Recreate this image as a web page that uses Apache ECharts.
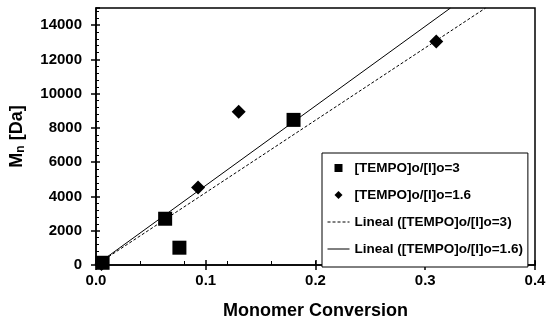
<!DOCTYPE html>
<html>
<head>
<meta charset="utf-8">
<script src="https://cdn.jsdelivr.net/npm/echarts@6/dist/echarts.min.js"></script>
<style>
html,body{margin:0;padding:0;background:#fff;}
#c{width:550px;height:325px;}
</style>
</head>
<body>
<div id="c"></div>
<script>
// Data
var seriesNames = ['[TEMPO]o/[I]o=3', '[TEMPO]o/[I]o=1.6', 'Lineal ([TEMPO]o/[I]o=3)', 'Lineal ([TEMPO]o/[I]o=1.6)'];
var conv3 = [0.006, 0.063, 0.076, 0.180];
var mn3 = [130, 2700, 1010, 8470];
var conv16 = [0.005, 0.093, 0.130, 0.310];
var mn16 = [60, 4530, 8950, 13050];
// trendline end points (forced through zero), read where they leave the plot
var trend3X = [0, 0.355];
var trend3Y = [0, 15000];
var trend16X = [0, 0.323];
var trend16Y = [0, 15000];
var xTicks = ['0.0', '0.1', '0.2', '0.3', '0.4'];
var yTicks = ['0', '2000', '4000', '6000', '8000', '10000', '12000', '14000'];

function pairs(xs, ys) { return xs.map(function (x, i) { return [x, ys[i]]; }); }

var FONT = 'Liberation Sans, Arial, sans-serif';
var chart = echarts.init(document.getElementById('c'), null, {renderer: 'canvas'});
var hidden = {show: false};
var option = {
  animation: false,
  backgroundColor: '#fff',
  grid: {left: 96, right: 15, top: 8, bottom: 55, show: true, borderColor: '#000', borderWidth: 1.5, backgroundColor: 'transparent'},
  legend: {
    orient: 'vertical', left: 322, top: 153, width: 206,
    padding: [8, 5, 11, 5], itemGap: 13, itemWidth: 22, itemHeight: 8,
    borderColor: '#000', borderWidth: 1, backgroundColor: '#fff', borderRadius: 0,
    textStyle: {fontFamily: FONT, fontWeight: 'bold', fontSize: 13.5, color: '#000', padding: [0, 0, 0, 0]},
    data: [
      {name: seriesNames[0], icon: 'path://M0,0H10V10H0Z', itemStyle: {color: '#000', opacity: 1}},
      {name: seriesNames[1], icon: 'path://M5,0L10,5L5,10L0,5Z', itemStyle: {color: '#000', opacity: 1}},
      {name: seriesNames[2], itemStyle: {opacity: 0}, lineStyle: {width: 1}},
      {name: seriesNames[3], itemStyle: {opacity: 0}, lineStyle: {width: 1}}
    ]
  },
  xAxis: [
    {
      type: 'value', min: 0, max: 0.4, interval: 0.1,
      name: 'Monomer Conversion', nameLocation: 'middle', nameGap: 37,
      nameTextStyle: {fontFamily: FONT, fontWeight: 'bold', fontSize: 18, color: '#000'},
      axisLine: {show: true, lineStyle: {color: '#000', width: 1.5}},
      axisTick: {show: true, inside: false, length: 5, lineStyle: {color: '#000', width: 1.5}},
      axisLabel: {margin: 8, fontFamily: FONT, fontWeight: 'bold', fontSize: 15, color: '#000',
        formatter: function (v) { return xTicks[Math.round(v * 10)]; }},
      splitLine: hidden
    },
    {
      type: 'value', min: 0, max: 0.4, interval: 0.1, position: 'bottom',
      axisLine: hidden, axisLabel: hidden, splitLine: hidden,
      axisTick: {show: true, inside: true, length: 5, lineStyle: {color: '#000', width: 1.5}}
    },
    {
      type: 'value', min: 0, max: 0.4, interval: 0.04, position: 'bottom',
      axisLine: hidden, axisLabel: hidden, splitLine: hidden,
      axisTick: {show: true, inside: true, length: 4, lineStyle: {color: '#000', width: 1}}
    }
  ],
  yAxis: [
    {
      type: 'value', min: 0, max: 15000, interval: 2000,
      name: '{a|M}{s|n}{a| [Da]}', nameLocation: 'middle', nameGap: 69, nameRotate: 90,
      nameTextStyle: {fontFamily: FONT, fontWeight: 'bold', fontSize: 18, color: '#000',
        rich: {a: {fontFamily: FONT, fontWeight: 'bold', fontSize: 18, color: '#000'},
               s: {fontFamily: FONT, fontWeight: 'bold', fontSize: 12, color: '#000', padding: [8, 0, 0, 0]}}},
      axisLine: {show: true, lineStyle: {color: '#000', width: 1.5}},
      axisTick: {show: true, inside: false, length: 5, lineStyle: {color: '#000', width: 1.5}},
      axisLabel: {margin: 14, fontFamily: FONT, fontWeight: 'bold', fontSize: 15, color: '#000', showMaxLabel: false,
        formatter: function (v) { var i = Math.round(v / 2000); return (v % 2000 === 0) ? yTicks[i] : ''; }},
      splitLine: hidden
    },
    {
      type: 'value', min: 0, max: 15000, interval: 2000, position: 'left',
      axisLine: hidden, axisLabel: hidden, splitLine: hidden,
      axisTick: {show: true, inside: true, length: 4, lineStyle: {color: '#000', width: 1.5}},
      minorTick: {show: true, splitNumber: 5, length: 3, lineStyle: {color: '#000', width: 1}}
    }
  ],
  series: [
    {
      name: seriesNames[0], type: 'scatter', symbol: 'rect', symbolSize: 14,
      itemStyle: {color: '#000', opacity: 1}, data: pairs(conv3, mn3), z: 5
    },
    {
      name: seriesNames[1], type: 'scatter', symbol: 'diamond', symbolSize: 14,
      itemStyle: {color: '#000', opacity: 1}, data: pairs(conv16, mn16), z: 4
    },
    {
      name: seriesNames[2], type: 'line', symbol: 'none', data: pairs(trend3X, trend3Y),
      lineStyle: {color: '#000', width: 1, type: [3, 2]}, itemStyle: {color: '#000'}, z: 3
    },
    {
      name: seriesNames[3], type: 'line', symbol: 'none', data: pairs(trend16X, trend16Y),
      lineStyle: {color: '#000', width: 1, type: 'solid'}, itemStyle: {color: '#000'}, z: 3
    }
  ]
};
chart.setOption(option);
</script>
</body>
</html>
